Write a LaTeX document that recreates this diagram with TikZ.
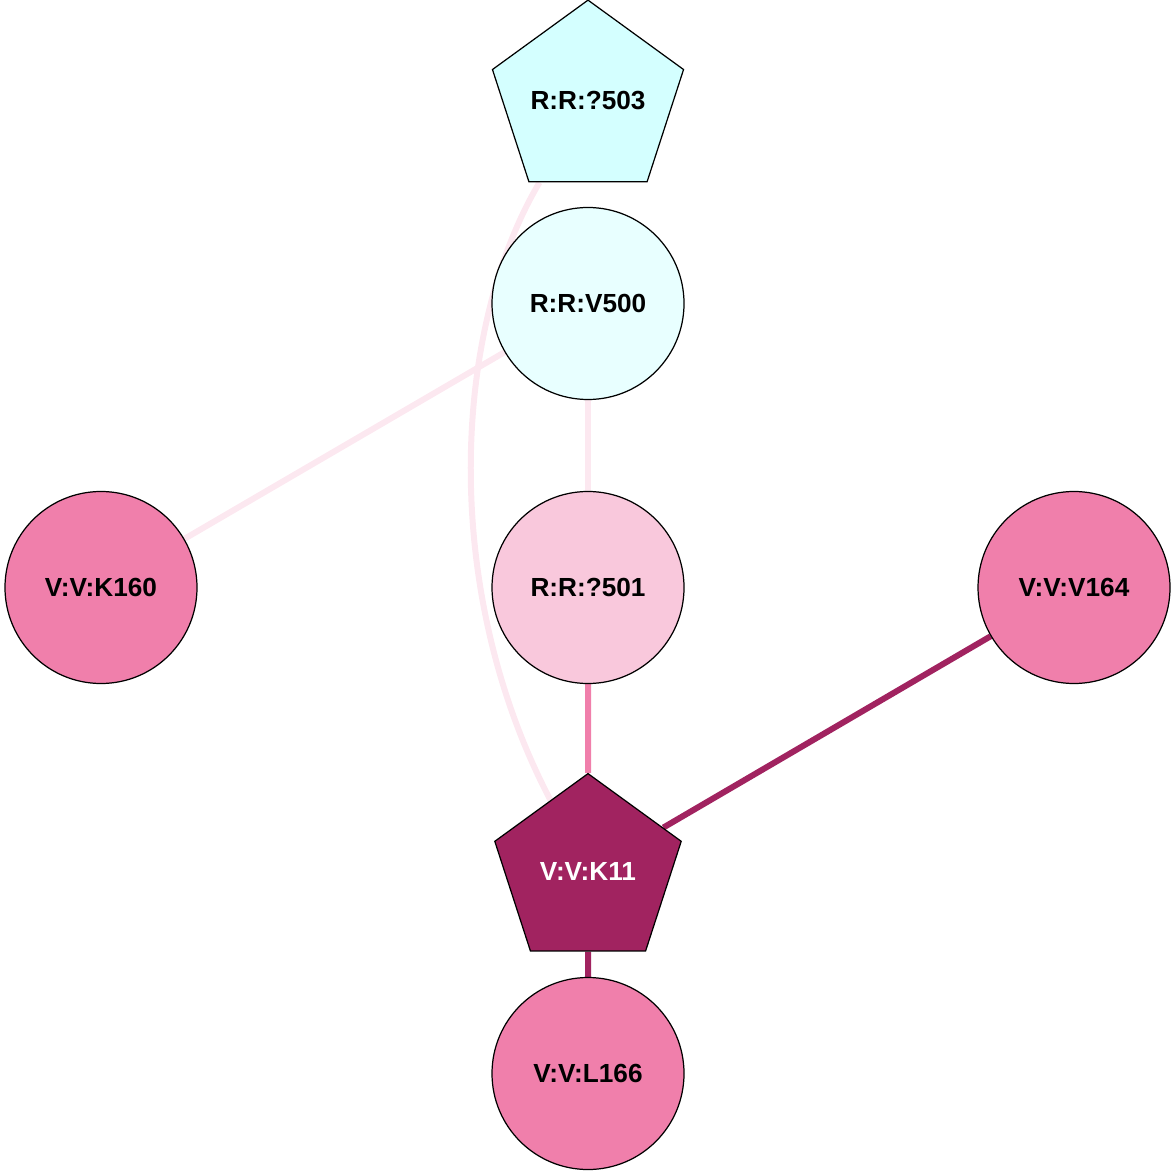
\documentclass[tikz,border=0pt]{standalone}
\usepackage{fontspec}
\setmainfont{Liberation Sans}
\usepackage{tikz}
\usetikzlibrary{shapes.geometric,backgrounds}

\definecolor{cyanfill}{HTML}{D4FFFF}
\definecolor{icefill}{HTML}{E8FFFF}
\definecolor{palepink}{HTML}{F9C8DC}
\definecolor{midpink}{HTML}{F07FAB}
\definecolor{darkpink}{HTML}{A12360}
\definecolor{faintpink}{HTML}{FCE8F0}

\begin{document}
\begin{tikzpicture}[
        res/.style={circle, draw, line width=0.35pt, minimum size=1.92cm, inner sep=0pt,
            font=\fontsize{7.45}{9}\selectfont\bfseries},
        hub/.style={regular polygon, regular polygon sides=5, draw, line width=0.35pt,
            minimum size=1.96cm, inner sep=0pt, font=\fontsize{7.45}{9}\selectfont\bfseries},
        link/.style={line width=0.06cm}]
        \useasboundingbox (0,0) rectangle (11.76,-11.76);

        \node[hub, fill=cyanfill] (r503) at (5.88,-1.006) {R:R:?503};
        \node[res, fill=icefill] (r500) at (5.88,-3.035) {R:R:V500};
        \node[res, fill=midpink] (k160) at (1.01,-5.875) {V:V:K160};
        \node[res, fill=palepink] (r501) at (5.88,-5.875) {R:R:?501};
        \node[res, fill=midpink] (v164) at (10.74,-5.875) {V:V:V164};
        \node[hub, fill=darkpink, text=white] (k11) at (5.88,-8.716) {V:V:K11};
        \node[res, fill=midpink] (l166) at (5.88,-10.735) {V:V:L166};

        \begin{scope}[on background layer]
            \draw[link, faintpink] (r500) -- (k160);
            \draw[link, faintpink] (r500) -- (r501);
            \draw[link, faintpink] (r503) .. controls (4.52,-3.30) and (4.40,-5.90) .. (k11);
            \draw[link, midpink] (r501) -- (k11);
            \draw[link, darkpink] (v164) -- (k11);
            \draw[link, darkpink] (k11) -- (l166);
        \end{scope}
    \end{tikzpicture}
\end{document}
